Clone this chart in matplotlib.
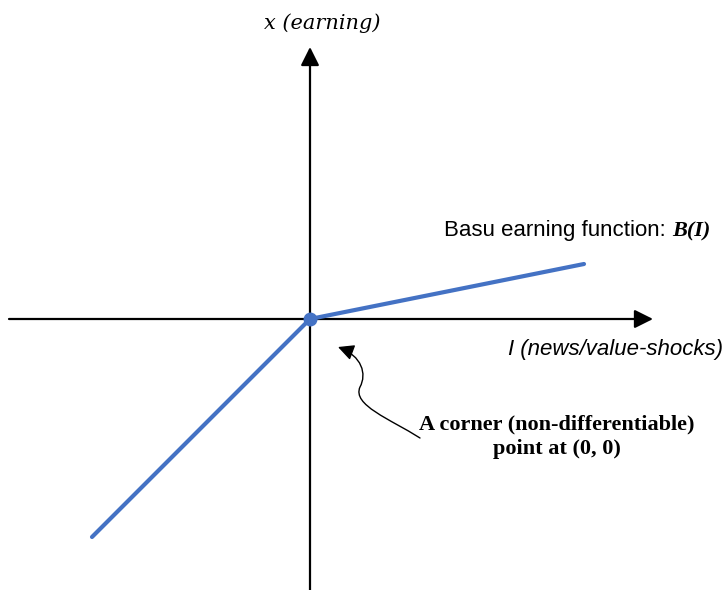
import matplotlib.pyplot as plt
from matplotlib.path import Path
from matplotlib.patches import FancyArrowPatch

# ------------------ data (axis units, origin = corner point) ------------------
news_I = [-2.18, 0.0, 2.74]      # I (news / value-shocks)
earning_x = [-2.18, 0.0, 0.55]   # x (earning) = B(I)
corner = (0.0, 0.0)

x_axis_range = (-3.01, 3.43)
y_axis_range = (-2.71, 2.72)

blue = "#4472C4"

fig = plt.figure(figsize=(7.26, 5.90), dpi=100)
ax = fig.add_axes([0, 0, 1, 1])
ax.set_xlim(-3.10, 4.16)
ax.set_ylim(-2.71, 3.19)
ax.axis("off")

# axes with arrow heads
arrow_kw = dict(arrowstyle="-|>", lw=1.6, color="black", mutation_scale=28,
                shrinkA=0, shrinkB=0)
ax.annotate("", xy=(x_axis_range[1], 0), xytext=(x_axis_range[0], 0), arrowprops=arrow_kw)
ax.annotate("", xy=(0, y_axis_range[1]), xytext=(0, y_axis_range[0]), arrowprops=arrow_kw)

# Basu earning function
ax.plot(news_I, earning_x, color=blue, lw=3.0, solid_capstyle="round", zorder=3)
ax.plot(*corner, "o", color=blue, ms=9, zorder=4)

# labels
ax.text(0.12, 2.96, "x (earning)", ha="center", va="center", fontsize=15,
        family="DejaVu Serif", style="italic")
ax.text(4.13, -0.36, "I (news/value-shocks)", ha="right", va="baseline", fontsize=16,
        family="Liberation Sans", style="italic")
t1 = ax.text(1.34, 0.83, "Basu earning function: ", ha="left", va="baseline", fontsize=16,
             family="Liberation Sans")
ax.annotate("B(I)", xy=(1, 0), xycoords=t1, ha="left", va="bottom", fontsize=16,
            family="Liberation Serif", weight="bold", style="italic")

ax.text(2.47, -1.18, "A corner (non-differentiable)\npoint at (0, 0)", ha="center",
        va="center", multialignment="center", fontsize=16, family="Liberation Serif",
        weight="bold", linespacing=1.3)

# curved pointer to the corner
verts = [(1.10, -1.19), (0.80, -1.00), (0.42, -0.86), (0.50, -0.68),
         (0.57, -0.55), (0.52, -0.37), (0.28, -0.28)]
codes = [Path.MOVETO] + [Path.CURVE4] * 6
curve = FancyArrowPatch(path=Path(verts, codes), arrowstyle="-|>", mutation_scale=24,
                        lw=1.0, color="black", shrinkA=0, shrinkB=0)
ax.add_patch(curve)

fig.savefig("out.png", dpi=100)
